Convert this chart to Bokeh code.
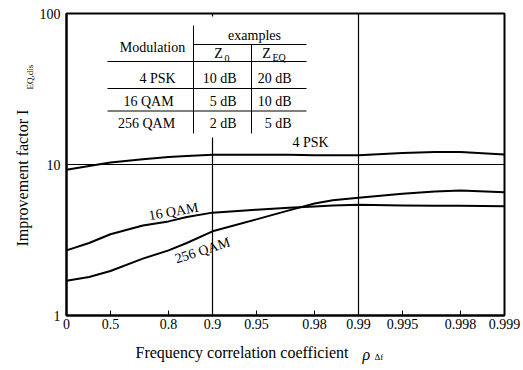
import numpy as np
from bokeh.plotting import figure
from bokeh.models import Range1d, FixedTicker, BasicTickFormatter, Label
from bokeh.embed import file_html
from bokeh.resources import INLINE

# ---------------- data ----------------
tick_labels = ["0", "0.5", "0.8", "0.9", "0.95", "0.98", "0.99", "0.995", "0.998", "0.999"]
grid_rho = [0.9, 0.99]
rho = [0, 0.3, 0.5, 0.7, 0.8, 0.85, 0.9, 0.95, 0.97, 0.98, 0.985, 0.99, 0.995, 0.997, 0.998, 0.999]
psk4 = [9.22, 9.77, 10.3, 10.85, 11.2, 11.4, 11.6, 11.6, 11.6, 11.5, 11.5, 11.5, 11.9, 12.1, 12.1, 11.65]
qam16 = [2.70, 3.02, 3.45, 3.95, 4.20, 4.49, 4.80, 5.02, 5.17, 5.28, 5.36, 5.41, 5.36, 5.34, 5.33, 5.30]
qam256 = [1.70, 1.80, 1.97, 2.38, 2.70, 3.02, 3.61, 4.33, 4.97, 5.52, 5.79, 6.02, 6.40, 6.63, 6.73, 6.56]
modulations = ["4 PSK", "16 QAM", "256 QAM"]
z0 = ["10 dB", "5 dB", "2 dB"]
zeq = ["20 dB", "10 dB", "5 dB"]


def u_of(r):
    return 0.0 - np.log10(1.0 - np.asarray(r, dtype=float))


# ---------------- figure ----------------
W, H = 523, 370
L, R, T, B = 66, 19, 13, 55
p = figure(width=W, height=H, x_range=Range1d(0, 3), y_range=Range1d(1, 100),
           y_axis_type="log", output_backend="svg", toolbar_location=None,
           min_border_left=L, min_border_right=R, min_border_top=T, min_border_bottom=B)
p.background_fill_color = "white"
p.border_fill_color = "white"
p.outline_line_color = "black"
p.outline_line_width = 2

FW = W - L - R
FH = H - T - B


def X(px):
    return (px - L) / FW * 3.0


def Y(py):
    return 10 ** (2.0 * (H - B - py) / FH)


# axes
tick_u = [float(v) for v in u_of([float(s) for s in tick_labels])]
xa = p.xaxis[0]
xa.ticker = FixedTicker(ticks=tick_u)
xa.major_label_overrides = {u: s for u, s in zip(tick_u, tick_labels)}
xa.major_tick_in = 5
xa.major_tick_out = 0
xa.minor_tick_line_color = None
xa.major_label_standoff = 3
xa.axis_line_width = 2
xa.major_tick_line_width = 1

ya = p.yaxis[0]
ya.ticker = FixedTicker(ticks=[1, 10, 100])
ya.formatter = BasicTickFormatter()
ya.major_tick_in = 0
ya.major_tick_out = 0
ya.minor_tick_line_color = None
ya.major_label_standoff = 6
ya.axis_line_width = 2

for ax in (xa, ya):
    ax.major_label_text_font = "Liberation Serif"
    ax.major_label_text_font_size = "14px"
    ax.major_label_text_color = "black"
    ax.axis_line_color = "black"
    ax.major_tick_line_color = "black"

p.xgrid.ticker = FixedTicker(ticks=[float(v) for v in u_of(grid_rho)])
p.ygrid.ticker = FixedTicker(ticks=[10])
for g in (p.xgrid[0], p.ygrid[0]):
    g.grid_line_color = "black"
    g.grid_line_width = 1.2
    g.grid_line_alpha = 1.0

# curves
u = u_of(rho)
for vals in (psk4, qam16, qam256):
    p.line(u, vals, line_color="black", line_width=2, line_join="round")

# ---------------- table ----------------
p.quad(left=[X(100)], right=[X(312)], top=[Y(16)], bottom=[Y(137)],
       fill_color="white", line_color=None)


def seg(x0, y0, x1, y1):
    p.segment(x0=[X(x0)], y0=[Y(y0)], x1=[X(x1)], y1=[Y(y1)], line_color="black", line_width=1)


seg(193, 25, 193, 133)
seg(193, 44, 306, 44)
seg(251, 44, 251, 133)
for yy in (61, 88, 110.5):
    seg(107, yy, 306, yy)


def make_label(text, px, py, size, align, baseline, angle, italic):
    return Label(x=X(px), y=Y(py), text=text, text_font="Liberation Serif",
                 text_font_size=f"{size}px", text_align=align, text_baseline=baseline,
                 angle=angle, text_color="black",
                 text_font_style="italic" if italic else "normal")


def lab(text, px, py, size=14, align="center", baseline="middle", angle=0.0, italic=False, side="center"):
    p.add_layout(make_label(text, px, py, size, align, baseline, angle, italic), side)


lab("Modulation", 152, 47)
lab("examples", 254, 35)
lab("Z", 218, 53)
lab("0", 224, 58, size=10, align="left")
lab("Z", 266, 53)
lab("EQ", 272, 57, size=10, align="left")
row_y = [78, 100.5, 122.5]
mod_x = [157, 148, 146]
for name, zz0, zzeq, yy, xx in zip(modulations, z0, zeq, row_y, mod_x):
    lab(name, xx, yy)
    lab(zz0, 236, yy, align="right")
    lab(zzeq, 291, yy, align="right")

# curve labels
lab(modulations[0], 310, 142)
lab(modulations[1], 173, 211, angle=np.deg2rad(10))
lab(modulations[2], 202, 250, angle=np.deg2rad(18))

# axis titles (placed in the side panels so they are not clipped to the frame)
lab("Frequency correlation coefficient", 135, 352, size=16, align="left", side="below")
lab("\u03c1", 362, 354, size=16, align="left", italic=True, side="below")
lab("\u0394f", 374, 356, size=9, align="left", side="right")
lab("Improvement factor  I", 22, 246, size=16, align="left", angle=np.pi / 2, side="left")
lab("EQ,dis", 29, 89, size=9, align="left", angle=np.pi / 2, side="left")

open("out.html", "w").write(file_html(p, INLINE))
